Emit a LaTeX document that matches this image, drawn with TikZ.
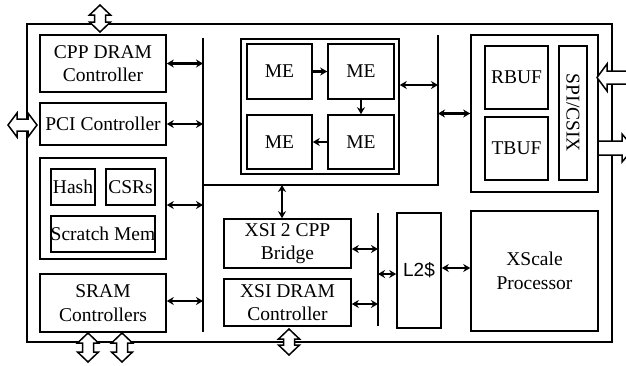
\documentclass[tikz,border=0pt]{standalone}
\usepackage{fontspec}
\setmainfont{Liberation Serif}
\newfontfamily\arialf{Liberation Sans}
\usetikzlibrary{arrows.meta}
\newcommand{\vbiarrow}[3]{%
  \draw[hollow] (#1-5.5,#2+10) -- (#1-10.5,#2+10) -- (#1,#2) -- (#1+10.5,#2+10) -- (#1+5.5,#2+10)
    -- (#1+5.5,#3-10) -- (#1+10.5,#3-10) -- (#1,#3) -- (#1-10.5,#3-10) -- (#1-5.5,#3-10) -- cycle;}
\begin{document}
\begin{tikzpicture}[x=1pt,y=-1pt,
  blk/.style={draw,line width=1.6pt,inner sep=0pt,align=center,font=\fontsize{19.5}{23.5}\selectfont},
  bi/.style={line width=2.4pt,{Stealth[length=7pt,width=8pt]}-{Stealth[length=7pt,width=8pt]}},
  one/.style={line width=2.4pt,-{Stealth[length=7pt,width=8pt]}},
  bus/.style={line width=1.7pt},
  hollow/.style={draw,line width=1.5pt,fill=white,line join=miter}]
\useasboundingbox (0,0) rectangle (626,365);
\clip (0,0) rectangle (626,365);

% chip frame
\node[draw,line width=1.7pt,minimum width=585pt,minimum height=318pt,inner sep=0pt] (chip) at (319.5,183) {};

% left column
\node[blk,minimum width=126pt,minimum height=57pt] (cppdram) at (103,63.5) {CPP DRAM\\Controller};
\node[blk,minimum width=126pt,minimum height=42pt] (pci) at (103,124) {PCI Controller};
\node[blk,minimum width=126pt,minimum height=101pt] (hashgrp) at (103,208.5) {};
\node[blk,minimum width=44pt,minimum height=36pt] (hash) at (73,187) {Hash};
\node[blk,minimum width=49pt,minimum height=36pt] (csrs) at (130.5,187) {CSRs};
\node[blk,minimum width=104pt,minimum height=36pt] (scratch) at (103,234) {Scratch Mem};
\node[blk,minimum width=126pt,minimum height=58pt] (sram) at (103,303) {SRAM\\Controllers};

% ME cluster
\node[blk,minimum width=158pt,minimum height=135pt] (megrp) at (320,106.5) {};
\node[blk,minimum width=65pt,minimum height=55pt] (me1) at (279.5,71.5) {ME};
\node[blk,minimum width=66pt,minimum height=55pt] (me2) at (361,71.5) {ME};
\node[blk,minimum width=65pt,minimum height=54pt] (me3) at (279.5,142) {ME};
\node[blk,minimum width=66pt,minimum height=54pt] (me4) at (361,142) {ME};

% right group
\node[blk,minimum width=127pt,minimum height=157pt] (rgrp) at (534.5,113.5) {};
\node[blk,minimum width=63pt,minimum height=63pt] (rbuf) at (516.5,77.5) {RBUF};
\node[blk,minimum width=63pt,minimum height=63pt] (tbuf) at (516.5,148.5) {TBUF};
\node[blk,minimum width=134pt,minimum height=28pt,rotate=-90] (spi) at (573,113) {SPI/CSIX};

% lower middle
\node[blk,minimum width=127pt,minimum height=49pt] (bridge) at (287.5,243.5) {XSI 2 CPP\\Bridge};
\node[blk,minimum width=127pt,minimum height=47pt] (xsidram) at (287.5,302.5) {XSI DRAM\\Controller};
\node[blk,minimum width=44pt,minimum height=115pt,font=\arialf\fontsize{19}{23}\selectfont] (l2) at (419,270.5) {L2\$};
\node[blk,minimum width=127pt,minimum height=120pt] (xscale) at (534.5,271) {XScale\\Processor};

% buses
\coordinate (b1t) at (203,38);
\coordinate (b1b) at (203,332);
\coordinate (b1j) at (203,185);
\coordinate (b3b) at (438,185);
\coordinate (b3t) at (438,35);
\coordinate (b2t) at (378,213);
\coordinate (b2b) at (378,326);
\draw[bus] (b1t) -- (b1b);
\draw[bus] (b1j) -- (b3b) -- (b3t);
\draw[bus] (b2t) -- (b2b);

% connector y/x levels
\coordinate (yhash) at (0,205);
\coordinate (ysram) at (0,301);
\coordinate (yme) at (0,85);
\coordinate (ybr) at (0,249);
\coordinate (yxd) at (0,304);
\coordinate (yl2) at (0,274);
\coordinate (yxs) at (0,268);
\coordinate (xbr) at (282,0);

\draw[bi] (cppdram.east) -- (cppdram.east -| b1t);
\draw[bi] (pci.east) -- (pci.east -| b1t);
\draw[bi] (hashgrp.east |- yhash) -- (b1t |- yhash);
\draw[bi] (sram.east |- ysram) -- (b1t |- ysram);
\draw[bi] (megrp.east |- yme) -- (b3t |- yme);
\draw[bi] (b3t |- rgrp.west) -- (rgrp.west);
\draw[bi] (xbr |- b1j) -- (xbr |- bridge.north);
\draw[bi] (bridge.east |- ybr) -- (b2t |- ybr);
\draw[bi] (xsidram.east |- yxd) -- (b2t |- yxd);
\draw[bi] (b2t |- yl2) -- (l2.west |- yl2);
\draw[bi] (l2.east |- yxs) -- (xscale.west |- yxs);

\draw[one] (me1.east) -- (me2.west);
\draw[one] (me2.south) -- (me4.north);
\draw[one] (me4.west) -- (me3.east);

% hollow off-chip arrows
\vbiarrow{100}{5}{32}
\vbiarrow{88}{333}{362}
\vbiarrow{122}{333}{362}
\vbiarrow{289}{329}{355}
\draw[hollow] (8,125) -- (17,113) -- (17,119) -- (28,119) -- (28,113) -- (37,125)
  -- (28,137) -- (28,131) -- (17,131) -- (17,137) -- cycle;
\draw[hollow] (640,71) -- (607,71) -- (607,64) -- (597,77.5) -- (607,91) -- (607,84) -- (640,84) -- cycle;
\draw[hollow] (598,141) -- (622,141) -- (622,134) -- (634,148) -- (622,162) -- (622,155) -- (598,155) -- cycle;
\end{tikzpicture}
\end{document}
